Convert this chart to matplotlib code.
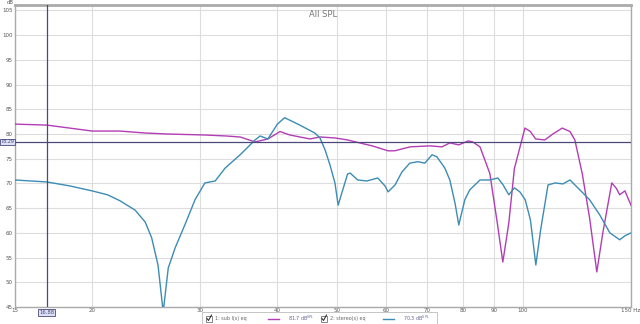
import matplotlib
matplotlib.use("Agg")
import matplotlib.pyplot as plt
from matplotlib.patches import Rectangle
from matplotlib.lines import Line2D

# ---- data ----
sub_freq = [15, 16.9, 18.4, 20, 22.2, 24.4, 26.5, 30.5, 33, 34.8, 36.8, 38.6, 40.4, 41.9,
            43.5, 45.2, 46.9, 49.6, 52, 54.4, 57, 60.5, 62, 65.7, 70.8, 74, 76.2, 78.8,
            81.6, 83, 85.3, 88.5, 91, 92.9, 95, 97, 100.9, 103, 105, 108.7, 112, 116,
            119.4, 121.6, 125, 128.5, 132, 135, 139.6, 142, 143.8, 146.6, 150]
sub_db = [82.0, 81.8, 81.2, 80.6, 80.6, 80.2, 80.0, 79.8, 79.6, 79.4, 78.4, 79.0, 80.5, 79.8,
          79.4, 79.0, 79.4, 79.2, 78.8, 78.2, 77.6, 76.6, 76.6, 77.4, 77.6, 77.4, 78.2, 77.8,
          78.6, 78.4, 77.4, 72.0, 62.0, 54.1, 62.0, 73.0, 81.2, 80.5, 79.0, 78.8, 80.0, 81.2,
          80.5, 78.8, 72.0, 63.0, 52.1, 60.0, 70.1, 69.0, 67.7, 68.5, 65.6]

st_freq = [15, 15.9, 16.9, 18.4, 20, 21.2, 22.2, 23.5, 24.4, 25.0, 25.6, 26.1, 26.6, 27.3,
           28.3, 29.4, 30.5, 31.7, 32.9, 34.8, 36.8, 37.5, 38.6, 40, 41.1, 43.5, 46, 46.9,
           47.8, 48.7, 49.6, 50.2, 50.9, 52.0, 52.5, 54.0, 55.9, 58.2, 59.8, 60.5, 62.1,
           63.7, 65.6, 67.6, 69.4, 71.3, 72.6, 74.8, 76.2, 77.7, 78.8, 80.6, 82.1, 85.3,
           88.5, 91.2, 93, 95, 97, 99, 101, 103, 105.1, 107, 110, 113, 116.3, 119.4, 123.9,
           128.5, 133.5, 138.6, 143.8, 146.6, 150]
st_db = [70.7, 70.5, 70.3, 69.5, 68.5, 67.7, 66.5, 64.6, 62.2, 59.0, 53.5, 44.0, 52.9, 57.0,
         61.6, 66.7, 70.1, 70.5, 73.1, 75.8, 78.8, 79.6, 79.0, 82.0, 83.3, 81.8, 80.2, 79.2,
         76.8, 73.7, 70.1, 65.6, 68.1, 71.9, 72.1, 70.7, 70.5, 71.1, 69.5, 68.3, 69.7,
         72.3, 74.1, 74.4, 74.1, 75.8, 75.4, 73.1, 70.7, 66.0, 61.6, 66.7, 68.7, 70.7,
         70.7, 71.1, 69.7, 67.7, 69.1, 68.3, 66.7, 62.6, 53.5, 60.6, 69.7, 70.1, 69.9, 70.7, 68.7,
         66.7, 63.6, 60.0, 58.6, 59.4, 60.0]

x_ticks = [15, 20, 30, 40, 50, 60, 70, 80, 90, 100, 150]
x_labels = ["15", "20", "30", "40", "50", "60", "70", "80", "90", "100", "150 Hz"]
y_ticks = list(range(45, 110, 5))
legend_names = ["1: sub l(s) eq", "2: stereo(s) eq"]
legend_values = ["81.7 dB$^{SPL}$", "70.3 dB$^{SPL}$"]
cursor_freq = 16.88
cursor_db = 78.29

# ---- style ----
c_sub = "#b23db4"
c_st = "#3c8cb4"
c_cursor = "#4a4a7a"
c_grid = "#dddddd"
c_text = "#555555"

W, H = 640, 324
fig = plt.figure(figsize=(6.4, 3.24), dpi=100)
ax = fig.add_axes([15 / W, 1 - 307 / H, 616 / W, 302 / H])
ax.set_xscale("log")
ax.set_xlim(15, 150)
ax.set_ylim(45, 106.1)

for t in x_ticks:
    ax.axvline(t, color=c_grid, lw=0.8, zorder=0)
for t in y_ticks:
    ax.axhline(t, color=c_grid, lw=0.8, zorder=0)

ax.plot(sub_freq, sub_db, color=c_sub, lw=1.0, zorder=3)
ax.plot(st_freq, st_db, color=c_st, lw=1.0, zorder=3)

ax.axvline(cursor_freq, color=c_cursor, lw=0.9, zorder=4)
ax.axhline(cursor_db, color=c_cursor, lw=0.9, zorder=4)

ax.set_xticks(x_ticks)
ax.set_xticklabels(x_labels)
ax.xaxis.set_minor_locator(matplotlib.ticker.NullLocator())
ax.set_yticks(y_ticks)
ax.set_yticklabels([str(v) for v in y_ticks])
ax.tick_params(axis="both", length=0, labelsize=4, colors=c_text, pad=1.5)
ax.tick_params(axis="x", pad=0.8)

for s in ax.spines.values():
    s.set_color("#aaaaaa")
    s.set_linewidth(1.0)
ax.spines["top"].set_linewidth(2.0)

ax.text(0.5, 0.985, "All SPL", transform=ax.transAxes, ha="center", va="top",
        fontsize=6, color="#777777")
fig.text(7 / W, 1 - 3 / H, "dB", fontsize=3.8, color=c_text, ha="left", va="center")

# cursor labels
ax.text(cursor_freq, 44.4, "16.88", ha="center", va="top", fontsize=3.8, color=c_cursor,
        bbox=dict(boxstyle="square,pad=0.15", fc="#dde0f5", ec=c_cursor, lw=0.6),
        clip_on=False)
fig.text(7.5 / W, 1 - 142 / H, "78.29", ha="center", va="center", fontsize=3.5, color=c_cursor,
         bbox=dict(boxstyle="square,pad=0.12", fc="#dde0f5", ec=c_cursor, lw=0.6))

# legend at bottom
fig.patches.append(Rectangle((202 / W, 1 - 324 / H), 235 / W, 12 / H, transform=fig.transFigure,
                             fc="white", ec="#bbbbbb", lw=0.6))
colors = [c_sub, c_st]
starts = [206, 321]
ym = 318.5
for i in range(2):
    x0 = starts[i]
    fig.patches.append(Rectangle((x0 / W, 1 - (ym + 3) / H), 6 / W, 6 / H,
                                 transform=fig.transFigure, fc="white", ec="#555555", lw=0.5))
    fig.lines.append(Line2D([(x0 + 1) / W, (x0 + 2.5) / W, (x0 + 5.5) / W],
                            [1 - ym / H, 1 - (ym + 2) / H, 1 - (ym - 3.5) / H],
                            transform=fig.transFigure, color="#222222", lw=0.7))
    fig.text((x0 + 9) / W, 1 - ym / H, legend_names[i], fontsize=3.5, color="#666666",
             va="center")
    fig.lines.append(Line2D([(x0 + 62) / W, (x0 + 73) / W], [1 - ym / H, 1 - ym / H],
                            transform=fig.transFigure, color=colors[i], lw=1.0))
    fig.text((x0 + 82) / W, 1 - ym / H, legend_values[i], fontsize=3.5, color="#666699",
             va="center")

fig.savefig("out.png", dpi=100)
